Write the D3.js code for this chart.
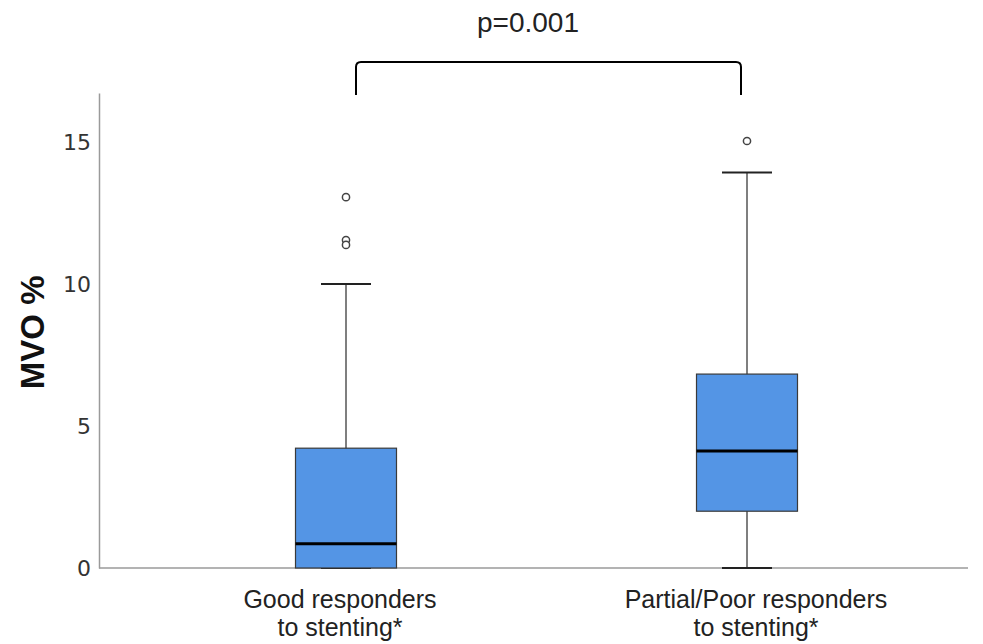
<!DOCTYPE html>
<html>
<head>
<meta charset="utf-8">
<script src="https://cdn.jsdelivr.net/npm/d3@7"></script>
<style>
  body { margin: 0; background: #fff; }
</style>
</head>
<body>
<svg id="chart" width="983" height="644"></svg>
<script>
/** Chart values **/
var groups = ["Good responders|to stenting*", "Partial/Poor responders|to stenting*"];
var whiskerLow = [0, 0];
var q1 = [0, 2.0];
var medians = [0.85, 4.12];
var q3 = [4.22, 6.83];
var whiskerHigh = [10.0, 13.93];
var outliers = [[13.06, 11.55, 11.38], [15.04]];
var yTicks = [0, 5, 10, 15];
var pLabel = "p=0.001";

var svg = d3.select("#chart");
var margin = {left: 99, right: 15, top: 93, bottom: 76};
var width = 983 - margin.left - margin.right;
var height = 644 - margin.top - margin.bottom;

var g = svg.append("g")
    .attr("transform", "translate(" + margin.left + "," + margin.top + ")");

/** Scales **/
var xScale = d3.scalePoint()
    .domain(groups)
    .range([247, 648]);
var yScale = d3.scaleLinear()
    .domain([0, 16.73])
    .range([height, 0]);

/** Axes **/
var yAxis = d3.axisLeft(yScale).tickValues(yTicks).tickSize(0).tickPadding(8);
var yG = g.append("g").attr("class", "y_axis").call(yAxis);
yG.select(".domain").attr("stroke", "#9a9a9a").attr("stroke-width", 1.5);
yG.selectAll("text")
    .style("font", "22px 'DejaVu Sans', sans-serif")
    .style("fill", "#333");

g.append("line")
    .attr("x1", 0).attr("x2", width)
    .attr("y1", yScale(0)).attr("y2", yScale(0))
    .attr("stroke", "#9a9a9a").attr("stroke-width", 1.5);

/** Category labels on two lines (labels sit a little off the box centres) **/
var labelShift = [-6, 9];
groups.forEach(function (name, k) {
    var lines = name.split("|");
    var lx = xScale(name) + labelShift[k];
    var t = g.append("text")
        .attr("text-anchor", "middle")
        .attr("x", lx)
        .attr("y", height + 40)
        .style("font", "25px 'Liberation Sans', Arial, sans-serif")
        .style("fill", "#222");
    lines.forEach(function (l, i) {
        t.append("tspan").attr("x", lx).attr("dy", i === 0 ? 0 : 28).text(l);
    });
});

/** Y axis title **/
g.append("text")
    .text("MVO %")
    .attr("transform", "rotate(-90)")
    .attr("x", -(yScale(8.3)))
    .attr("y", -55)
    .attr("text-anchor", "middle")
    .style("font", "bold 33px 'Liberation Sans', Arial, sans-serif")
    .style("fill", "#111");

/** Boxes **/
var boxW = 101, capW = 50;
groups.forEach(function (name, i) {
    var cx = xScale(name);
    // whisker line
    g.append("line")
        .attr("x1", cx).attr("x2", cx)
        .attr("y1", yScale(whiskerLow[i])).attr("y2", yScale(whiskerHigh[i]))
        .attr("stroke", "#555").attr("stroke-width", 1.5);
    // caps
    [whiskerLow[i], whiskerHigh[i]].forEach(function (v) {
        g.append("line")
            .attr("x1", cx - capW / 2).attr("x2", cx + capW / 2)
            .attr("y1", yScale(v)).attr("y2", yScale(v))
            .attr("stroke", "#222").attr("stroke-width", 2);
    });
    // box
    g.append("rect")
        .attr("x", cx - boxW / 2)
        .attr("width", boxW)
        .attr("y", yScale(q3[i]))
        .attr("height", yScale(q1[i]) - yScale(q3[i]))
        .attr("fill", "#5495e5")
        .attr("stroke", "#3a3a3a")
        .attr("stroke-width", 1.2);
    // median
    g.append("line")
        .attr("x1", cx - boxW / 2).attr("x2", cx + boxW / 2)
        .attr("y1", yScale(medians[i])).attr("y2", yScale(medians[i]))
        .attr("stroke", "#000").attr("stroke-width", 3);
    // outliers
    g.selectAll(".out" + i)
        .data(outliers[i])
        .enter().append("circle")
        .attr("class", "out" + i)
        .attr("cx", cx)
        .attr("cy", function (d) { return yScale(d); })
        .attr("r", 3.6)
        .attr("fill", "#fff")
        .attr("stroke", "#444")
        .attr("stroke-width", 1.5);
});

/** Significance bracket **/
var bx1 = xScale(groups[0]) + 10, bx2 = xScale(groups[1]) - 6;
var by = -31, bDrop = 33, r = 5;
svg.append("path")
    .attr("transform", "translate(" + margin.left + "," + margin.top + ")")
    .attr("d", "M" + bx1 + "," + (by + bDrop) +
        " L" + bx1 + "," + (by + r) +
        " Q" + bx1 + "," + by + " " + (bx1 + r) + "," + by +
        " L" + (bx2 - r) + "," + by +
        " Q" + bx2 + "," + by + " " + bx2 + "," + (by + r) +
        " L" + bx2 + "," + (by + bDrop))
    .attr("fill", "none")
    .attr("stroke", "#000")
    .attr("stroke-width", 2);

svg.append("text")
    .text(pLabel)
    .attr("x", 528)
    .attr("y", 32)
    .attr("text-anchor", "middle")
    .style("font", "28px 'Liberation Sans', Arial, sans-serif")
    .style("fill", "#222");
</script>
</body>
</html>
